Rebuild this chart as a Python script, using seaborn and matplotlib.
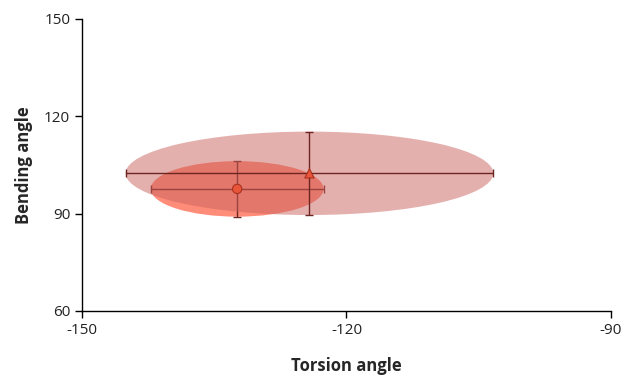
import matplotlib
matplotlib.use("Agg")
import matplotlib.pyplot as plt
from matplotlib.patches import Ellipse
import seaborn as sns
import pandas as pd

# data
series = ["circle", "triangle"]
torsion = [-132.4, -124.2]
bending = [97.6, 102.4]
torsion_err = [9.8, 20.85]
bending_err = [8.55, 12.85]
x_ticks = [-150, -120, -90]
y_ticks = [60, 90, 120, 150]

sns.set_style("white")
plt.rcParams['font.family'] = ['Open Sans', 'DejaVu Sans']
plt.rcParams['axes.unicode_minus'] = False

fig = plt.figure(figsize=(6.26, 3.76), dpi=100)
ax = fig.add_axes([0.131, 0.173, 0.845, 0.777])

df = pd.DataFrame({"series": series, "torsion": torsion, "bending": bending})

# small ellipse (circle series)
ax.add_patch(Ellipse((torsion[0], bending[0]), 2 * torsion_err[0], 2 * bending_err[0],
                     facecolor="#FF8C78", edgecolor="none", zorder=1))
ax.errorbar(torsion[0], bending[0], xerr=torsion_err[0], yerr=bending_err[0], fmt="none",
            ecolor="#6E2520", elinewidth=1.0, capsize=3, capthick=1.0, zorder=2)
# large ellipse (triangle series)
ax.add_patch(Ellipse((torsion[1], bending[1]), 2 * torsion_err[1], 2 * bending_err[1],
                     facecolor="#C9635F", alpha=0.5, edgecolor="none", zorder=3))
ax.errorbar(torsion[1], bending[1], xerr=torsion_err[1], yerr=bending_err[1], fmt="none",
            ecolor="#6E2520", elinewidth=1.0, capsize=3, capthick=1.0, zorder=4)

sns.scatterplot(data=df, x="torsion", y="bending", style="series",
                markers={"circle": "o", "triangle": "^"}, color="#E8553A",
                edgecolor="#A8321F", linewidth=0.8, s=45, legend=False, ax=ax, zorder=5)

ax.set_xlim(-150, -90)
ax.set_ylim(60, 150)
ax.set_xticks(x_ticks)
ax.set_yticks(y_ticks)
ax.tick_params(axis="both", direction="out", length=5, width=1, color="black",
               labelsize=11, labelcolor="#222222", bottom=True, left=True)
for s in ["top", "right"]:
    ax.spines[s].set_visible(False)
for s in ["left", "bottom"]:
    ax.spines[s].set_color("black")
    ax.spines[s].set_linewidth(1)

ax.set_xlabel("Torsion angle", fontsize=12, fontweight="bold", labelpad=14)
ax.set_ylabel("Bending angle", fontsize=12, fontweight="bold", labelpad=8)

fig.savefig("out.png", dpi=100)
